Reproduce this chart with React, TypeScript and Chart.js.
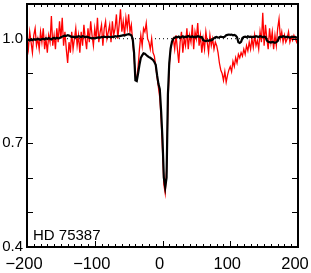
import { useEffect, useRef } from "react";
import { Chart, registerables } from "chart.js";

Chart.register(...registerables);

// Velocity grid (km/s): starts at -200, step 2
const velocityStart = -200;
const velocityStep = 2;

// Observed profile (red, noisy)
const observedFlux = [
  1.00, 0.97, 1.02, 0.99, 0.96, 1.01, 1.03, 0.98, 1.00, 0.97,
  1.02, 0.99, 1.03, 0.97, 1.00, 0.96, 1.01, 0.99, 1.065, 0.98,
  1.01, 0.97, 1.03, 0.99, 1.05, 1.00, 1.06, 0.98, 1.02, 0.97,
  0.93, 0.99, 0.96, 1.02, 0.97, 1.00, 1.03, 0.98, 1.01, 0.96,
  1.02, 0.98, 1.04, 1.00, 0.97, 1.03, 0.99, 1.05, 1.01, 0.98,
  1.03, 1.00, 1.06, 0.99, 1.02, 1.04, 0.98, 1.03, 1.05, 1.00,
  1.02, 1.04, 0.99, 1.05, 1.01, 1.03, 1.07, 1.00, 1.04, 1.085,
  1.02, 1.05, 1.01, 1.06, 1.03, 1.07, 1.02, 1.04, 0.99, 0.95,
  0.89, 0.885, 0.92, 0.97, 1.01, 0.98, 1.03, 1.02, 1.045, 1.00,
  0.99, 0.97, 1.00, 0.96, 0.95, 0.92, 0.89, 0.86, 0.83, 0.77,
  0.68, 0.58, 0.555, 0.62, 0.81, 0.92, 0.97, 0.99, 1.00, 0.97,
  1.01, 0.97, 0.93, 0.99, 1.02, 0.96, 1.00, 0.98, 1.03, 0.97,
  1.01, 0.99, 1.04, 0.97, 1.02, 1.00, 1.045, 0.98, 1.01, 0.96,
  1.00, 0.97, 1.02, 0.99, 0.96, 1.01, 0.98, 1.00, 0.97, 0.99,
  0.98, 0.96, 0.93, 0.91, 0.90, 0.88, 0.905, 0.875, 0.895, 0.91,
  0.92, 0.905, 0.935, 0.92, 0.945, 0.93, 0.955, 0.945, 0.96, 0.95,
  0.97, 0.955, 0.98, 0.965, 0.99, 0.97, 1.00, 0.975, 1.01, 0.98,
  0.995, 0.97, 1.02, 0.99, 1.075, 0.98, 1.04, 1.00, 0.97, 1.03,
  0.99, 1.02, 0.97, 1.01, 0.98, 1.03, 1.057, 1.00, 1.02, 0.99,
  1.01, 0.99, 1.00, 1.02, 0.99, 1.005, 0.995, 1.01, 1.00, 0.99,
  1.00,
];

// Model / mean profile (black)
const modelFlux = [
  0.996, 0.997, 0.995, 0.998, 0.996, 0.999, 0.997, 0.998, 1.000, 0.998,
  0.997, 0.999, 1.000, 0.998, 1.001, 0.999, 1.002, 1.000, 0.998, 1.001,
  1.002, 1.000, 1.003, 1.001, 1.002, 1.004, 1.006, 1.008, 1.009, 1.008,
  1.010, 1.009, 1.007, 1.005, 1.006, 1.004, 1.006, 1.005, 1.007, 1.006,
  1.005, 1.007, 1.006, 1.004, 1.006, 1.005, 1.003, 1.002, 1.001, 1.002,
  1.001, 1.002, 1.003, 1.004, 1.003, 1.005, 1.004, 1.006, 1.005, 1.004,
  1.006, 1.005, 1.004, 1.006, 1.005, 1.007, 1.006, 1.008, 1.007, 1.008,
  1.009, 1.010, 1.009, 1.011, 1.012, 1.013, 1.012, 1.010, 1.000, 0.960,
  0.880, 0.878, 0.900, 0.925, 0.945, 0.952, 0.958, 0.957, 0.953, 0.950,
  0.947, 0.945, 0.942, 0.939, 0.933, 0.925, 0.895, 0.870, 0.855, 0.790,
  0.710, 0.600, 0.572, 0.600, 0.840, 0.930, 0.972, 0.992, 1.000, 1.003,
  1.005, 1.004, 1.006, 1.003, 1.005, 1.007, 1.004, 1.006, 1.005, 1.008,
  1.006, 1.005, 1.007, 1.004, 1.006, 1.005, 1.007, 1.006, 1.004, 1.005,
  0.996, 0.994, 0.993, 0.995, 0.994, 0.996, 0.995, 0.997, 1.002, 1.004,
  1.005, 1.003, 1.004, 1.006, 1.005, 1.004, 1.006, 1.010, 1.011, 1.012,
  1.011, 1.012, 1.010, 1.011, 1.009, 1.004, 0.990, 0.988, 0.991, 1.002,
  1.005, 1.006, 1.004, 1.007, 1.005, 1.006, 1.004, 1.006, 1.005, 1.007,
  1.006, 1.005, 1.007, 1.006, 1.004, 1.006, 1.005, 0.995, 0.991, 0.990,
  0.989, 0.991, 0.990, 0.988, 0.990, 0.993, 1.004, 1.006, 1.005, 1.007,
  1.006, 1.004, 1.006, 1.005, 1.003, 1.005, 1.006, 1.004, 1.005, 1.003,
  1.004,
];

const continuumLevel = 1.0;
const xRange = [-200, 200];
const yRange = [0.4, 1.1];
const xTickLabels = [-200, -100, 0, 100, 200];
const yTickLabels = [0.4, 0.7, 1.0];
const xMinorStep = 10;
const yMinorStep = 0.1;
const starName = "HD 75387";

const FONT = '"Liberation Sans", Arial, Helvetica, sans-serif';

const framePlugin = {
  id: "idlFrame",
  afterDatasetsDraw(chart: any) {
    const { ctx, chartArea: a, scales } = chart;
    const x = scales.x;
    const y = scales.y;
    ctx.save();
    ctx.strokeStyle = "#000";
    ctx.lineWidth = 1;
    ctx.beginPath();
    const nx = Math.round((xRange[1] - xRange[0]) / xMinorStep);
    for (let k = 0; k <= nx; k++) {
      const v = xRange[0] + k * xMinorStep;
      const px = Math.round(x.getPixelForValue(v)) + 0.5;
      const major = xTickLabels.includes(v);
      const len = major ? 6 : 3;
      ctx.moveTo(px, a.bottom);
      ctx.lineTo(px, a.bottom - len);
      ctx.moveTo(px, a.top);
      ctx.lineTo(px, a.top + len);
    }
    const ny = Math.round((yRange[1] - yRange[0]) / yMinorStep);
    for (let k = 1; k < ny; k++) {
      const v = yRange[0] + k * yMinorStep;
      const py = Math.round(y.getPixelForValue(v)) + 0.5;
      ctx.moveTo(a.left, py);
      ctx.lineTo(a.left + 6, py);
      ctx.moveTo(a.right, py);
      ctx.lineTo(a.right - 6, py);
    }
    ctx.stroke();
    ctx.lineWidth = 2;
    ctx.strokeRect(a.left, a.top, a.right - a.left, a.bottom - a.top);
    ctx.fillStyle = "#000";
    ctx.font = `15px ${FONT}`;
    ctx.textAlign = "left";
    ctx.textBaseline = "alphabetic";
    ctx.fillText(starName, a.left + 6, a.bottom - 7);
    ctx.restore();
  },
};

export default function App() {
  const canvasRef = useRef<HTMLCanvasElement | null>(null);

  useEffect(() => {
    const canvas = canvasRef.current;
    if (!canvas) return;
    const velocities = observedFlux.map((_, i) => velocityStart + i * velocityStep);
    const observed = observedFlux.map((f, i) => ({ x: velocities[i], y: f }));
    const model = modelFlux.map((f, i) => ({ x: velocityStart + i * velocityStep, y: f }));
    const continuum = [
      { x: xRange[0], y: continuumLevel },
      { x: xRange[1], y: continuumLevel },
    ];

    const chart = new Chart(canvas, {
      type: "line",
      data: {
        datasets: [
          {
            data: continuum,
            borderColor: "#000",
            borderWidth: 1,
            borderDash: [1, 3],
            pointRadius: 0,
            order: 2,
          },
          {
            data: observed,
            borderColor: "#ff0000",
            borderWidth: 1.3,
            pointRadius: 0,
            order: 1,
          },
          {
            data: model,
            borderColor: "#000",
            borderWidth: 2.2,
            pointRadius: 0,
            order: 0,
          },
        ],
      },
      options: {
        animation: false,
        responsive: false,
        maintainAspectRatio: false,
        layout: { padding: { top: 4, right: 13, left: 0, bottom: 0 } },
        plugins: {
          legend: { display: false },
          tooltip: { enabled: false },
        },
        scales: {
          x: {
            type: "linear",
            min: xRange[0],
            max: xRange[1],
            grid: { display: false, drawTicks: false },
            border: { display: false },
            afterBuildTicks: (s: any) => {
              s.ticks = xTickLabels.map((v) => ({ value: v }));
            },
            afterFit: (s: any) => {
              s.height = 26;
              s.paddingLeft = 0;
              s.paddingRight = 0;
            },
            ticks: {
              color: "#000",
              font: { family: FONT, size: 16.5 },
              padding: 8,
              labelOffset: -3,
              maxRotation: 0,
              autoSkip: false,
              callback: (v: any) => String(v).replace("-", "\u2212"),
            },
          },
          y: {
            type: "linear",
            min: yRange[0],
            max: yRange[1],
            grid: { display: false, drawTicks: false },
            border: { display: false },
            afterBuildTicks: (s: any) => {
              s.ticks = yTickLabels.map((v) => ({ value: v }));
            },
            afterFit: (s: any) => {
              s.width = 27;
              s.paddingTop = 0;
              s.paddingBottom = 0;
            },
            ticks: {
              color: "#000",
              font: { family: FONT, size: 15 },
              padding: 4,
              autoSkip: false,
              callback: (v: any) => Number(v).toFixed(1),
            },
          },
        },
      },
      plugins: [framePlugin],
    });
    return () => chart.destroy();
  }, []);

  return (
    <div style={{ position: "fixed", left: 0, top: 0, width: 311, height: 273, background: "#fff" }}>
      <canvas ref={canvasRef} width={311} height={273} style={{ display: "block" }} />
    </div>
  );
}
